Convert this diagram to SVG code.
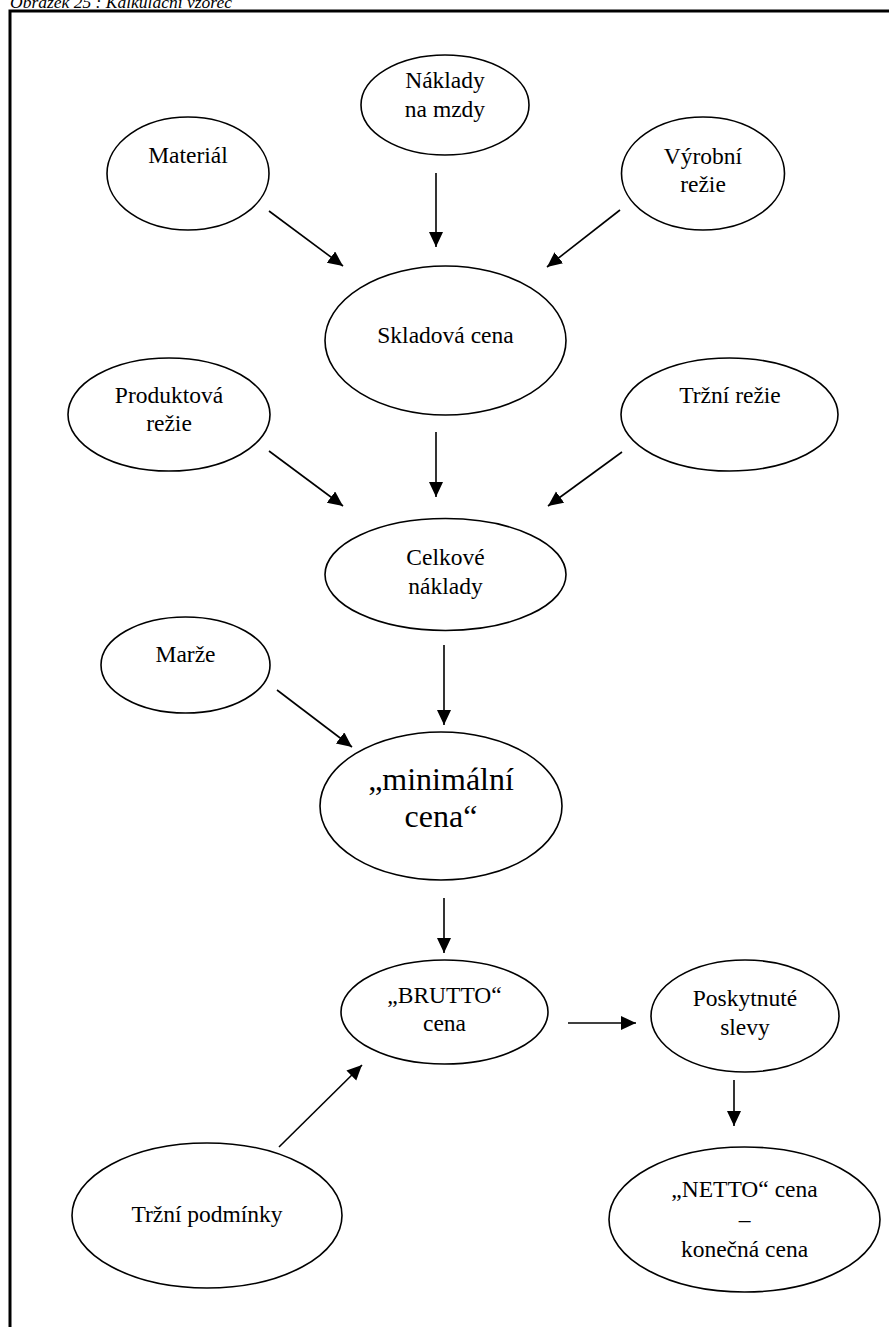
<svg xmlns="http://www.w3.org/2000/svg" width="889" height="1327" viewBox="0 0 889 1327">
  <style>
    .node ellipse { fill: #ffffff; stroke: #000000; stroke-width: 1.6; }
    .node text { font-family: "Liberation Serif", "Times New Roman", serif; font-size: 23.5px; fill: #000000; text-anchor: middle; }
    .node text.big { font-size: 32px; }
    .edge { stroke: #000000; stroke-width: 1.6; fill: none; marker-end: url(#arrow); }
    .caption { font-family: "Liberation Serif", "Times New Roman", serif; font-style: italic; font-size: 17.5px; fill: #000000; }
  </style>
  <defs>
    <marker id="arrow" markerUnits="userSpaceOnUse" markerWidth="16" markerHeight="16" refX="15" refY="7" orient="auto">
      <path d="M0,0 L15,7 L0,14 z" fill="#000000"/>
    </marker>
  </defs>

  <rect width="889" height="1327" fill="#ffffff"/>

  <!-- caption and frame -->
  <text class="caption" x="10" y="7.5">Obrázek 25 : Kalkulační vzorec</text>
  <path d="M10,1330 V11 H892" fill="none" stroke="#000000" stroke-width="3"/>

  <!-- connectors -->
  <g id="connectors">
    <line class="edge" x1="436" y1="173" x2="436" y2="247"/>
    <line class="edge" x1="269" y1="211" x2="343" y2="266"/>
    <line class="edge" x1="620" y1="210" x2="547" y2="267"/>
    <line class="edge" x1="436" y1="432" x2="436" y2="497"/>
    <line class="edge" x1="269" y1="451" x2="343" y2="506"/>
    <line class="edge" x1="622" y1="452" x2="548" y2="506"/>
    <line class="edge" x1="444" y1="645" x2="444" y2="725"/>
    <line class="edge" x1="277" y1="690" x2="352" y2="747"/>
    <line class="edge" x1="444" y1="898" x2="444" y2="953"/>
    <line class="edge" x1="568" y1="1023" x2="636" y2="1023"/>
    <line class="edge" x1="734" y1="1080" x2="734" y2="1126"/>
    <line class="edge" x1="279" y1="1147" x2="362" y2="1065"/>
  </g>

  <!-- nodes -->
  <g id="naklady-na-mzdy" class="node">
    <ellipse cx="445" cy="105" rx="84" ry="50"/>
    <text x="445" y="88">Náklady</text>
    <text x="445" y="117">na mzdy</text>
  </g>
  <g id="material" class="node">
    <ellipse cx="188" cy="173.5" rx="81" ry="56.5"/>
    <text x="188" y="163">Materiál</text>
  </g>
  <g id="vyrobni-rezie" class="node">
    <ellipse cx="703" cy="173.5" rx="81.5" ry="56.5"/>
    <text x="703" y="164">Výrobní</text>
    <text x="703" y="192">režie</text>
  </g>
  <g id="skladova-cena" class="node">
    <ellipse cx="445.5" cy="340.5" rx="120.5" ry="74.5"/>
    <text x="445.5" y="343">Skladová cena</text>
  </g>
  <g id="produktova-rezie" class="node">
    <ellipse cx="169" cy="414.5" rx="101" ry="56.5"/>
    <text x="169" y="403">Produktová</text>
    <text x="169" y="431">režie</text>
  </g>
  <g id="trzni-rezie" class="node">
    <ellipse cx="729.5" cy="414.5" rx="108.5" ry="56.5"/>
    <text x="730" y="403">Tržní režie</text>
  </g>
  <g id="celkove-naklady" class="node">
    <ellipse cx="445.5" cy="574.5" rx="120.5" ry="56"/>
    <text x="445.5" y="565">Celkové</text>
    <text x="445.5" y="594">náklady</text>
  </g>
  <g id="marze" class="node">
    <ellipse cx="185.5" cy="665" rx="84.5" ry="48"/>
    <text x="185.5" y="662">Marže</text>
  </g>
  <g id="minimalni-cena" class="node">
    <ellipse cx="441" cy="806" rx="121" ry="74"/>
    <text class="big" x="441" y="790">„minimální</text>
    <text class="big" x="441" y="827">cena“</text>
  </g>
  <g id="brutto-cena" class="node">
    <ellipse cx="444.5" cy="1012" rx="103.5" ry="52"/>
    <text x="444.5" y="1003">„BRUTTO“</text>
    <text x="444.5" y="1031">cena</text>
  </g>
  <g id="poskytnute-slevy" class="node">
    <ellipse cx="745" cy="1016" rx="94" ry="56"/>
    <text x="745" y="1006">Poskytnuté</text>
    <text x="745" y="1035">slevy</text>
  </g>
  <g id="netto-cena" class="node">
    <ellipse cx="744.5" cy="1219.5" rx="135.5" ry="72.5"/>
    <text x="744.5" y="1197">„NETTO“ cena</text>
    <text x="744.5" y="1227">–</text>
    <text x="744.5" y="1257">konečná cena</text>
  </g>
  <g id="trzni-podminky" class="node">
    <ellipse cx="207" cy="1215.5" rx="135" ry="72.5"/>
    <text x="207" y="1222">Tržní podmínky</text>
  </g>
</svg>
